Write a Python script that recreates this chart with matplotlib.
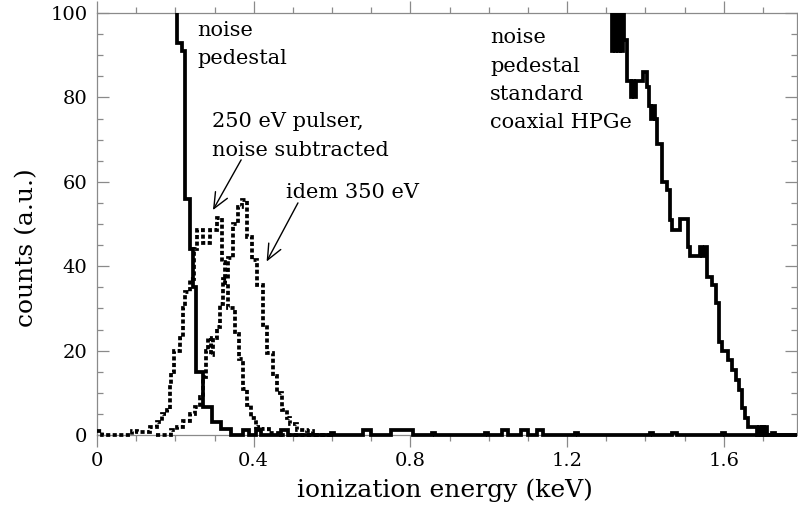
import numpy as np
import matplotlib
matplotlib.use("Agg")
import matplotlib.pyplot as plt
from matplotlib.ticker import MultipleLocator, FuncFormatter
from matplotlib.transforms import Bbox, TransformedBbox

# ---------------- data (energies in keV, counts in a.u.) ----------------
# low-noise detector pedestal (solid)
ped_edges = [0.0, 0.2035, 0.216, 0.225, 0.237, 0.246, 0.254, 0.271, 0.293, 0.317,
             0.342, 0.373, 0.388, 0.406, 0.419, 0.47, 0.488, 0.597, 0.605, 0.678,
             0.70, 0.75, 0.807, 0.855, 0.863, 0.99, 0.998, 1.034, 1.05, 1.082,
             1.10, 1.122, 1.138, 1.22, 1.228, 1.412, 1.42, 1.468, 1.481, 1.596,
             1.603, 1.723, 1.731, 1.79]
ped_counts = [300, 93, 91, 56, 44, 35, 15, 6.7, 3, 1.5,
              0, 1.2, 0, 1.2, 0, 1.2, 0, 0.5, 0, 1.2,
              0, 1.2, 0, 0.4, 0, 0.4, 0, 1.2, 0, 1.2,
              0, 1.2, 0, 0.4, 0, 0.4, 0, 0.4, 0, 0.4,
              0, 0.4, 0]

# 250 eV pulser, noise subtracted (dotted)
p250_edges = [0.0, 0.012, 0.089, 0.101, 0.135, 0.152, 0.165, 0.178, 0.186, 0.190,
              0.196, 0.212, 0.219, 0.225, 0.237, 0.248, 0.255, 0.271, 0.289, 0.306,
              0.318, 0.327, 0.335, 0.352, 0.363, 0.373, 0.383, 0.393, 0.405, 0.42,
              0.44, 0.47, 0.60]
p250_counts = [1, 0, 1, 0.6, 1.8, 3, 5, 6, 12, 15,
               20, 23, 30, 34, 37, 44, 48.5, 45.5, 48.5, 51.5,
               41, 36, 30, 24, 18, 11, 7, 4, 2, 1.5,
               0.5, 0]

# idem 350 eV (dotted)
p350_edges = [0.15, 0.19, 0.203, 0.22, 0.237, 0.25, 0.263, 0.27, 0.278, 0.284,
              0.29, 0.296, 0.306, 0.314, 0.322, 0.334, 0.347, 0.36, 0.37, 0.382,
              0.395, 0.408, 0.425, 0.434, 0.45, 0.46, 0.472, 0.485, 0.493, 0.51,
              0.536, 0.551, 0.60]
p350_counts = [0, 1.2, 2, 3.2, 5, 6.6, 9, 13.8, 20, 23,
               19, 23, 25.5, 31, 37, 42, 50, 54, 55.6, 47,
               41.5, 35.5, 26, 19.5, 14, 10, 6, 4, 2.5, 1.3,
               1, 0]

# standard coaxial HPGe noise pedestal (solid)
hpge_edges = [1.25, 1.314, 1.318, 1.322, 1.326, 1.330, 1.334, 1.338, 1.342, 1.346,
              1.352, 1.363, 1.367, 1.371, 1.375, 1.395, 1.403, 1.410, 1.415, 1.420,
              1.425, 1.429, 1.442, 1.454, 1.463, 1.467, 1.488, 1.510, 1.514, 1.539,
              1.545, 1.551, 1.557, 1.569, 1.579, 1.587, 1.596, 1.610, 1.622, 1.630,
              1.638, 1.646, 1.654, 1.663, 1.686, 1.690, 1.694, 1.698, 1.702, 1.706,
              1.710, 1.79]
hpge_counts = [300, 91, 300, 91, 300, 91, 300, 91, 300, 93.6,
               84, 80, 84, 80, 84, 86, 82.5, 78, 75, 78,
               75, 69, 60, 58, 51, 48.6, 51.3, 44.6, 42.3, 44.6,
               42.3, 44.6, 37.5, 35.5, 31.2, 22, 20, 17.8, 15.4, 13,
               10.7, 6.5, 4, 2, 0, 2, 0, 2, 0, 2,
               0]

x_major_ticks = [0, 0.4, 0.8, 1.2, 1.6]
y_major_ticks = [0, 20, 40, 60, 80, 100]

# ---------------- figure ----------------
plt.rcParams['font.family'] = ['DejaVu Serif']
FS = 14      # tick labels
FA = 15      # annotations
FL = 18      # axis labels
W, H = 798, 509
fig = plt.figure(figsize=(W / 100, H / 100), dpi=100)
ax = fig.add_axes([97 / W, 1 - 435 / H, 700 / W, 422 / H])

LW = 2.7
dot = (0, (1.1, 0.65))
arts = []
arts.append(ax.stairs(p250_counts, p250_edges, baseline=None, color='black', lw=LW,
                      linestyle=dot, zorder=3))
arts.append(ax.stairs(p350_counts, p350_edges, baseline=None, color='black', lw=LW,
                      linestyle=dot, zorder=3))
arts.append(ax.stairs(ped_counts, ped_edges, baseline=None, color='black', lw=LW,
                      zorder=4))
arts.append(ax.stairs(hpge_counts, hpge_edges, baseline=None, color='black', lw=LW,
                      zorder=4))

ax.set_xlim(0, 1.787)
ax.set_ylim(0, 100)

# let the zero-level line show at full thickness below the bottom spine
clipbox = TransformedBbox(Bbox([[0, -0.012], [1, 1]]), ax.transAxes)
for a in arts:
    a.set_clip_path(None)
    a.set_clip_box(clipbox)

ax.set_xticks(x_major_ticks)
ax.set_yticks(y_major_ticks)
ax.xaxis.set_minor_locator(MultipleLocator(0.1))
ax.yaxis.set_minor_locator(MultipleLocator(5))
ax.xaxis.set_major_formatter(FuncFormatter(lambda v, p: f"{v:g}"))

tc = '#8a8a8a'
ax.tick_params(axis='x', which='both', direction='out', top=True, bottom=True,
               color=tc, width=0.9, labelsize=FS, pad=4)
ax.tick_params(axis='y', which='both', direction='in', left=True, right=True,
               color=tc, width=0.9, labelsize=FS, pad=7)
ax.tick_params(which='major', length=8.6)
ax.tick_params(which='minor', length=4.6)
for s in ax.spines.values():
    s.set_color(tc)
    s.set_linewidth(0.9)

ax.set_xlabel('ionization energy (keV)', fontsize=FL)
ax.set_ylabel('counts (a.u.)', fontsize=FL)
ax.xaxis.set_label_coords(0.497, -0.104)
ax.yaxis.set_label_coords(-0.084, 0.443)


def px(x, y):
    return (x - 97) / 700, (435 - y) / 422


def label(lines, x, y0, dy=28.5):
    for i, t in enumerate(lines):
        ax.text(*px(x, y0 + i * dy), t, transform=ax.transAxes, fontsize=FA,
                ha='left', va='baseline', zorder=5)


label(['noise', 'pedestal'], 197, 36)
label(['250 eV pulser,', 'noise subtracted'], 212, 127)
label(['idem 350 eV'], 286, 198)
label(['noise', 'pedestal', 'standard', 'coaxial HPGe'], 490, 43)

arrow = dict(arrowstyle='->,head_length=0.8,head_width=0.35', lw=1.0,
             color='black', mutation_scale=14, shrinkA=0, shrinkB=0)
ax.annotate('', xy=(0.296, 53.3), xytext=(0.368, 65.2), arrowprops=arrow)
ax.annotate('', xy=(0.433, 41.1), xytext=(0.513, 55.0), arrowprops=arrow)

fig.savefig('out.png', dpi=100)
